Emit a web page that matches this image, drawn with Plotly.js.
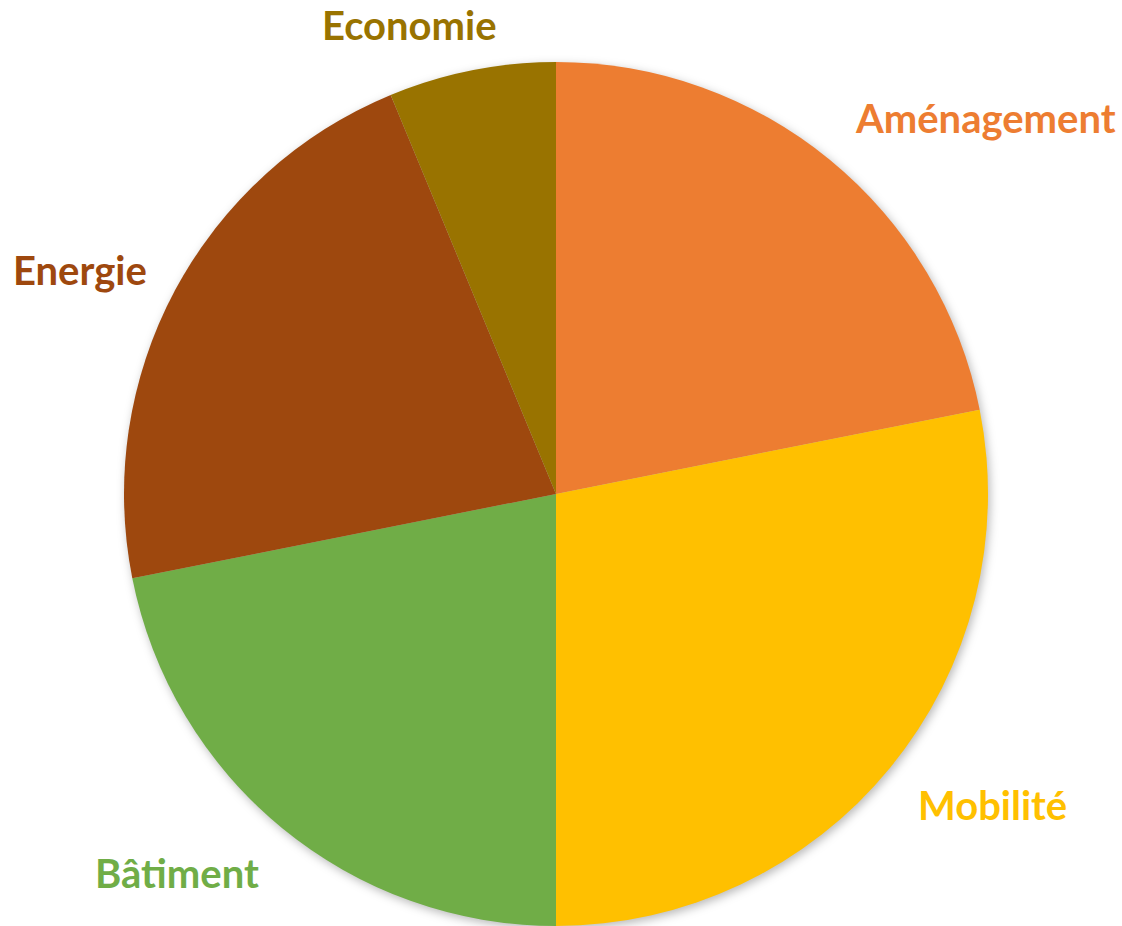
<!DOCTYPE html>
<html>
<head>
<meta charset="utf-8">
<script src="https://cdn.plot.ly/plotly-3.0.1.min.js"></script>
<style>
html,body{margin:0;padding:0;background:#fff;}
#chart{width:1122px;height:926px;}
.pielayer{filter:drop-shadow(2px 3px 5px rgba(0,0,0,0.28));}
</style>
</head>
<body>
<div id="chart"></div>
<script>
const categories = ["Aménagement", "Mobilité", "Bâtiment", "Energie", "Economie"];
const values = [7, 9, 7, 7, 2];
const colors = ["#ED7D31", "#FFC000", "#70AD47", "#9E480E", "#997300"];
const labelPos = [[985, 118], [992, 805], [177, 873], [80, 270], [409, 25]];

const W = 1122, H = 926;
const annotations = categories.map((c, i) => ({
  text: c,
  xref: "paper", yref: "paper",
  x: labelPos[i][0] / W, y: 1 - labelPos[i][1] / H,
  xanchor: "center", yanchor: "middle",
  showarrow: false,
  font: {family: "Lato, 'Open Sans', sans-serif", size: 40, color: colors[i], weight: "bold"}
}));

const data = [{
  type: "pie",
  labels: categories,
  values: values,
  sort: false,
  direction: "clockwise",
  rotation: 0,
  marker: {colors: colors, line: {width: 0}},
  textinfo: "none",
  hoverinfo: "label+value",
  showlegend: false,
  domain: {x: [124 / W, 988 / W], y: [0, 1 - 62 / H]}
}];

const layout = {
  width: W, height: H,
  margin: {l: 0, r: 0, t: 0, b: 0},
  paper_bgcolor: "#ffffff",
  showlegend: false,
  annotations: annotations
};

Plotly.newPlot("chart", data, layout, {displayModeBar: false, staticPlot: true});
</script>
</body>
</html>
